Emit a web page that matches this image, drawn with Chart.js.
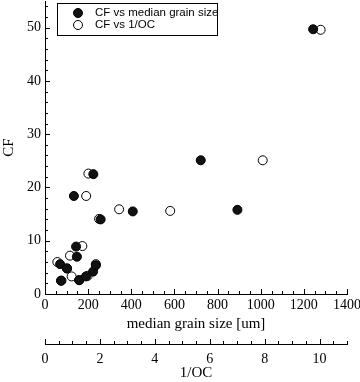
<!DOCTYPE html>
<html>
<head>
<meta charset="utf-8">
<script src="https://cdn.jsdelivr.net/npm/chart.js@4"></script>
<style>
  html, body { margin: 0; padding: 0; background: #fff; }
  #wrap { width: 360px; height: 382px; }
</style>
</head>
<body>
<div id="wrap"><canvas id="cfChart" width="360" height="382"></canvas></div>
<script>
// --- Data ---
const grainSize = [1243, 722, 892, 407, 258, 224, 134, 144, 148, 70, 74, 102, 158, 190, 223, 236];
const cfGrain = [49.7, 25.1, 15.8, 15.5, 14.0, 22.5, 18.4, 8.9, 7.0, 5.6, 2.5, 4.8, 2.6, 3.3, 4.2, 5.4];

const invOC = [10.04, 7.93, 4.56, 2.7, 1.97, 1.58, 1.5, 1.36, 0.91, 0.45, 0.97, 0.8, 1.25, 1.55, 1.85, 0.6];
const cfOC = [49.6, 25.1, 15.6, 15.9, 14.1, 22.6, 18.4, 9.0, 7.2, 6.0, 3.3, 4.8, 2.6, 3.4, 5.6, 2.5];

const seriesLabels = ["CF vs median grain size", "CF vs 1/OC"];
const yTicks = [0, 10, 20, 30, 40, 50];
const xTicks = [0, 200, 400, 600, 800, 1000, 1200, 1400];
const x2Ticks = [0, 2, 4, 6, 8, 10];

const serif = "'Liberation Serif', 'Times New Roman', serif";
const sans = "'Liberation Sans', Arial, sans-serif";

const toPoints = (xs, ys) => xs.map((x, i) => ({ x: x, y: ys[i] }));

// fixed box sizes, no extra label padding
const fixBox = (w, h) => (s) => {
  if (w) s.width = w;
  if (h) s.height = h;
  s.paddingTop = 0;
  s.paddingBottom = 0;
  s.paddingLeft = 0;
  s.paddingRight = 0;
};

// --- Inward tick marks (major + minor) ---
const tickMarks = {
  id: "tickMarks",
  afterDraw(chart) {
    const ctx = chart.ctx;
    const marks = [
      { id: "y", minor: 2, major: 10 },
      { id: "x", minor: 50, major: 200 },
      { id: "x2", minor: 0.5, major: 2 },
    ];
    ctx.save();
    ctx.strokeStyle = "#000";
    ctx.lineWidth = 1;
    marks.forEach((m) => {
      const s = chart.scales[m.id];
      for (let v = s.min; v <= s.max + 1e-9; v += m.minor) {
        const isMajor = Math.abs(v / m.major - Math.round(v / m.major)) < 1e-6;
        const len = isMajor ? 5 : 3;
        const p = Math.round(s.getPixelForValue(v)) + 0.5;
        ctx.beginPath();
        if (m.id === "y") {
          ctx.moveTo(s.right, p);
          ctx.lineTo(s.right + len, p);
        } else {
          ctx.moveTo(p, s.top);
          ctx.lineTo(p, s.top - len);
        }
        ctx.stroke();
      }
    });
    ctx.restore();
  },
};

// --- Boxed legend inside the plot ---
const boxLegend = {
  id: "boxLegend",
  afterDraw(chart) {
    const ctx = chart.ctx;
    const bx = 57, by = 3, bw = 160, bh = 32;
    ctx.save();
    ctx.fillStyle = "#fff";
    ctx.fillRect(bx, by, bw, bh);
    ctx.strokeStyle = "#000";
    ctx.lineWidth = 1;
    ctx.strokeRect(bx + 0.5, by + 0.5, bw, bh);
    ctx.font = "11.5px " + sans;
    ctx.textBaseline = "middle";
    chart.data.datasets.forEach((ds, i) => {
      const cy = by + 10 + i * 12;
      ctx.beginPath();
      ctx.arc(78, cy, 4.5, 0, Math.PI * 2);
      ctx.fillStyle = ds.backgroundColor;
      ctx.fill();
      ctx.strokeStyle = "#000";
      ctx.stroke();
      ctx.fillStyle = "#000";
      ctx.fillText(ds.label, 95, cy);
    });
    ctx.restore();
  },
};

document.addEventListener("DOMContentLoaded", function () {
  const ctx = document.getElementById("cfChart");

  new Chart(ctx, {
    type: "scatter",
    data: {
      datasets: [
        {
          label: seriesLabels[0],
          data: toPoints(grainSize, cfGrain),
          xAxisID: "x",
          backgroundColor: "#111",
          borderColor: "#000",
          borderWidth: 1,
          pointRadius: 4.5,
        },
        {
          label: seriesLabels[1],
          data: toPoints(invOC, cfOC),
          xAxisID: "x2",
          backgroundColor: "#fff",
          borderColor: "#000",
          borderWidth: 1,
          pointRadius: 4.5,
        },
      ],
    },
    options: {
      responsive: false,
      animation: false,
      layout: { autoPadding: false, padding: { top: 1, right: 13, bottom: 0, left: 0 } },
      plugins: {
        legend: { display: false },
        tooltip: { enabled: false },
      },
      scales: {
        y: {
          min: 0,
          max: 55,
          afterFit: fixBox(45, 0),
          afterBuildTicks: (s) => { s.ticks = yTicks.map((v) => ({ value: v })); },
          grid: { display: false, drawTicks: false },
          border: { display: true, color: "#000", width: 1 },
          ticks: { color: "#000", padding: 4, font: { family: serif, size: 14 } },
          title: {
            display: true,
            text: "CF",
            color: "#000",
            padding: { top: 0, bottom: 0 },
            font: { family: serif, size: 15 },
          },
        },
        x: {
          type: "linear",
          position: "bottom",
          min: 0,
          max: 1400,
          afterFit: fixBox(0, 50),
          afterBuildTicks: (s) => { s.ticks = xTicks.map((v) => ({ value: v })); },
          grid: { display: false, drawTicks: false },
          border: { display: true, color: "#000", width: 1 },
          ticks: {
            color: "#000",
            padding: 3,
            maxRotation: 0,
            font: { family: serif, size: 14 },
            callback: (v) => String(v),
          },
          title: {
            display: true,
            text: "median grain size [um]",
            color: "#000",
            padding: { top: 0, bottom: 11 },
            font: { family: serif, size: 15 },
          },
        },
        x2: {
          type: "linear",
          position: "bottom",
          min: 0,
          max: 11,
          afterFit: fixBox(0, 38),
          afterBuildTicks: (s) => { s.ticks = x2Ticks.map((v) => ({ value: v })); },
          grid: { display: false, drawTicks: false },
          border: { display: true, color: "#000", width: 1 },
          ticks: {
            color: "#000",
            padding: 7,
            maxRotation: 0,
            font: { family: serif, size: 14 },
            callback: (v) => String(v),
          },
          title: {
            display: true,
            text: "1/OC",
            color: "#000",
            padding: { top: 0, bottom: 0 },
            font: { family: serif, size: 15 },
          },
        },
      },
    },
    plugins: [tickMarks, boxLegend],
  });
});
</script>
</body>
</html>
